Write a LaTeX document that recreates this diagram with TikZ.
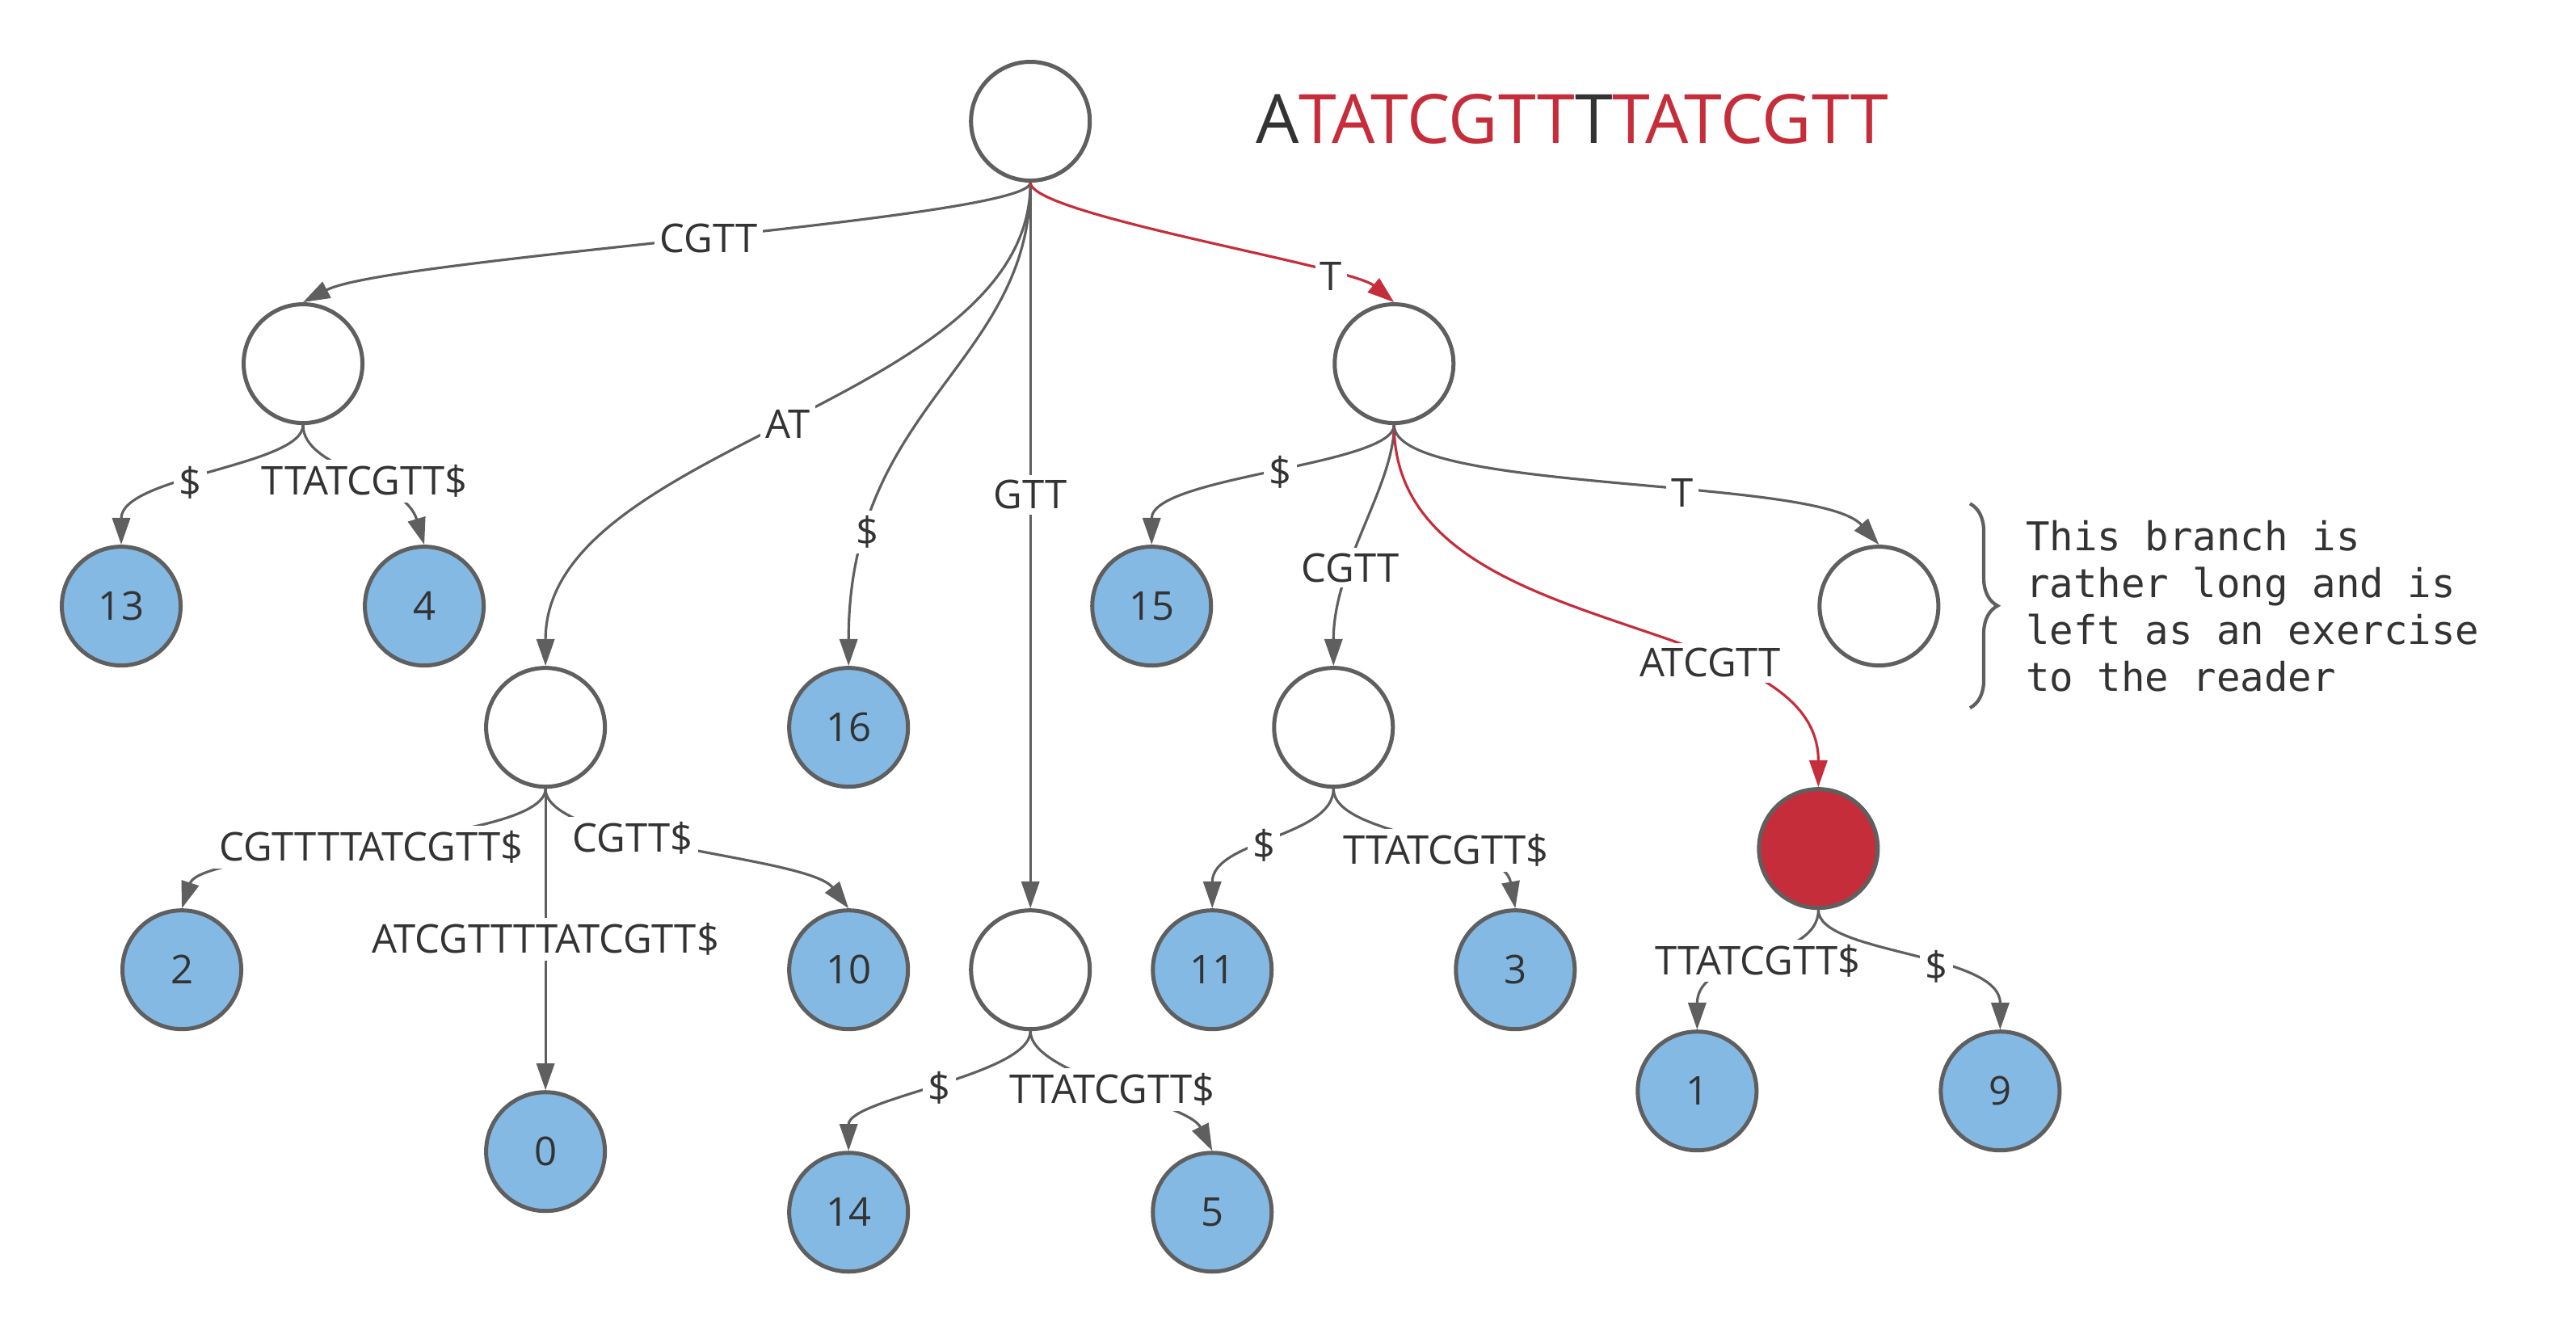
\documentclass[tikz,border=0pt]{standalone}
\usepackage{fontspec}
\setmainfont{Open Sans}
\newfontfamily\notefont{DejaVu Sans Mono}
\usetikzlibrary{arrows.meta, decorations.pathreplacing}
\definecolor{edgegray}{HTML}{5F5F5F}
\definecolor{textgray}{HTML}{333333}
\definecolor{leafblue}{HTML}{84B9E3}
\definecolor{hitred}{HTML}{C62D3B}
\tikzstyle{inner} = [circle, minimum size=0.98cm, inner sep=0pt, draw=edgegray, line width=0.95pt, fill=white, text=textgray, font=\fontsize{9.3}{11}\selectfont]
\tikzstyle{leaf} = [inner, fill=leafblue]
\tikzstyle{hit} = [inner, fill=hitred]
\tikzstyle{lbl} = [fill=white, inner sep=1.2pt, text=textgray, font=\fontsize{9.3}{11}\selectfont]
\tikzstyle{arrow} = [color=edgegray, line width=0.6pt, -{Triangle[length=6.3pt,width=4.2pt]}]
\tikzstyle{redarrow} = [arrow, color=hitred]

\begin{document}
\begin{tikzpicture}[x=0.5cm, y=0.5cm]
    \useasboundingbox (0,0) rectangle (42.5,-22);
    \node (root) [inner] at (17,-2) {};
    \node (cgtt) [inner] at (5,-6) {};
    \node (t) [inner] at (23,-6) {};
    \node (l13) [leaf] at (2,-10) {13};
    \node (l4) [leaf] at (7,-10) {4};
    \node (at) [inner] at (9,-12) {};
    \node (l16) [leaf] at (14,-12) {16};
    \node (gtt) [inner] at (17,-16) {};
    \node (l15) [leaf] at (19,-10) {15};
    \node (tcgtt) [inner] at (22,-12) {};
    \node (tt) [inner] at (31,-10) {};
    \node (tatcgtt) [hit] at (30,-14) {};
    \node (l2) [leaf] at (3,-16) {2};
    \node (l0) [leaf] at (9,-19) {0};
    \node (l10) [leaf] at (14,-16) {10};
    \node (l14) [leaf] at (14,-20) {14};
    \node (l5) [leaf] at (20,-20) {5};
    \node (l11) [leaf] at (20,-16) {11};
    \node (l3) [leaf] at (25,-16) {3};
    \node (l1) [leaf] at (28,-18) {1};
    \node (l9) [leaf] at (33,-18) {9};
    \node (seq) [anchor=base west, inner sep=0pt, text=textgray, font=\fontsize{16}{19}\selectfont] at (20.71,-2.37) {A\textcolor{hitred}{TATCGTT}T\textcolor{hitred}{TATCGTT}};
    \node (note) [anchor=west, inner sep=0pt, align=left, text=textgray, font=\notefont\fontsize{9.3}{11}\selectfont] at (33.41,-10) {This branch is\\rather long and is\\left as an exercise\\to the reader};
    \draw [edgegray, line width=0.8pt, decorate, decoration={brace, amplitude=6.5pt}] (32.5,-8.31) -- (32.5,-11.68);
    \draw [arrow] (root.south) .. controls +(0,-0.6) and +(1.4,0.73) .. (cgtt.north) node[lbl, pos=0.49] {CGTT};
    \draw [arrow] (root.south) .. controls +(0,-3.67) and +(0,3.67) .. (at.north) node[lbl, pos=0.5] {AT};
    \draw [arrow] (root.south) .. controls +(0,-3) and +(0,4.33) .. (l16.north) node[lbl, pos=0.8] {\$};
    \draw [arrow] (root.south) -- (gtt.north) node[lbl, pos=0.43] {GTT};
    \draw [redarrow] (root.south) .. controls +(0,-0.53) and +(-0.73,0.6) .. (t.north) node[lbl, pos=0.78] {T};
    \draw [arrow] (cgtt.south) .. controls +(0,-0.67) and +(0,1.13) .. (l13.north) node[lbl, pos=0.58] {\$};
    \draw [arrow] (cgtt.south) .. controls +(0,-0.73) and +(-0.33,1.1) .. (l4.north) node[lbl, pos=0.55] {TTATCGTT\$};
    \draw [arrow] (at.south) .. controls +(0,-0.93) and +(0.33,1) .. (l2.north) node[lbl, pos=0.5] {CGTTTTATCGTT\$};
    \draw [arrow] (at.south) -- (l0.north) node[lbl, pos=0.5] {ATCGTTTTATCGTT\$};
    \draw [arrow] (at.south) .. controls +(0,-0.93) and +(-0.67,0.87) .. (l10.north) node[lbl, pos=0.38] {CGTT\$};
    \draw [arrow] (gtt.south) .. controls +(0,-0.73) and +(0,0.87) .. (l14.north) node[lbl, pos=0.5] {\$};
    \draw [arrow] (gtt.south) .. controls +(0,-0.73) and +(-0.4,0.8) .. (l5.north) node[lbl, pos=0.5] {TTATCGTT\$};
    \draw [arrow] (t.south) .. controls +(0,-0.67) and +(0,1.13) .. (l15.north) node[lbl, pos=0.48] {\$};
    \draw [arrow] (t.south) .. controls +(0,-1) and +(0,1.67) .. (tcgtt.north) node[lbl, pos=0.65] {CGTT};
    \draw [redarrow] (t.south) .. controls +(0,-3.67) and +(0,3) .. (tatcgtt.north) node[lbl, pos=0.67] {ATCGTT};
    \draw [arrow] (t.south) .. controls +(0,-1.13) and +(-1,1.13) .. (tt.north) node[lbl, pos=0.6] {T};
    \draw [arrow] (tcgtt.south) .. controls +(0,-0.8) and +(0,1.13) .. (l11.north) node[lbl, pos=0.55] {\$};
    \draw [arrow] (tcgtt.south) .. controls +(0,-0.8) and +(-0.2,1.13) .. (l3.north) node[lbl, pos=0.6] {TTATCGTT\$};
    \draw [arrow] (tatcgtt.south) .. controls +(0,-0.87) and +(0,1.27) .. (l1.north) node[lbl, pos=0.5] {TTATCGTT\$};
    \draw [arrow] (tatcgtt.south) .. controls +(0,-0.73) and +(0,1.27) .. (l9.north) node[lbl, pos=0.6] {\$};
\end{tikzpicture}
\end{document}
